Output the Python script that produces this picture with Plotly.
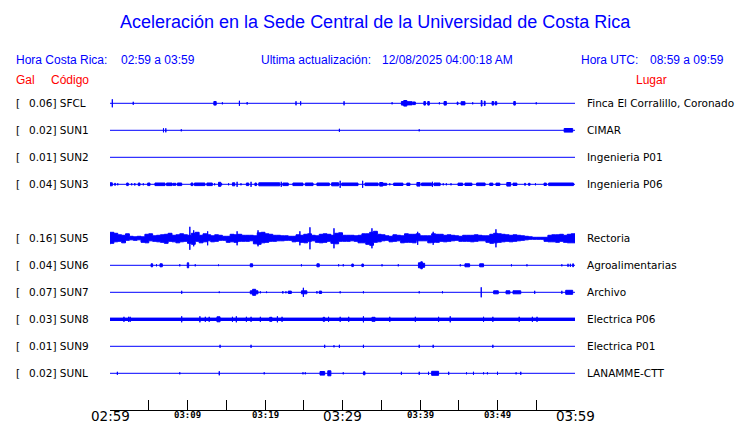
import numpy as np
import plotly.graph_objects as go

# stations, top to bottom (row 4 is empty in the original)
stations = ['SFCL', 'SUN1', 'SUN2', 'SUN3', 'SUN5', 'SUN6', 'SUN7', 'SUN8', 'SUN9', 'SUNL']
gal = [0.06, 0.02, 0.01, 0.04, 0.16, 0.04, 0.07, 0.03, 0.01, 0.02]
places = ['Finca El Corralillo, Coronado', 'CIMAR', 'Ingenieria P01', 'Ingenieria P06',
          'Rectoria', 'Agroalimentarias', 'Archivo', 'Electrica P06', 'Electrica P01',
          'LANAMME-CTT']
rows = [0, 1, 2, 3, 5, 6, 7, 8, 9, 10]

# time axis, minutes after 02:59
tick_min = [0, 5, 10, 15, 20, 25, 30, 35, 40, 45, 50, 55, 60]
label_min = [0, 10, 20, 30, 40, 50, 60]
label_txt = ['02:59', '03:09', '03:19', '03:29', '03:39', '03:49', '03:59']
big_labels = ['02:59', '03:29', '03:59']

# bursts per station: (start min, end min, half amplitude in screen px)
sfcl = [(0.3, 0.3, 4), (3.0, 3.0, 1.5), (13.4, 13.7, 1.8), (14.5, 14.5, 1), (16.7, 16.7, 2.5),
        (17.7, 17.7, 1.2), (24.0, 24.0, 2), (24.6, 24.6, 2), (30.2, 30.2, 2), (36.4, 36.4, 1),
        (37.6, 37.9, 1.8), (37.9, 38.3, 2.8), (38.3, 39.0, 1.6), (39.1, 39.4, 1.3),
        (40.5, 40.7, 1.8), (41.0, 41.2, 1.8), (42.5, 42.5, 1), (43.1, 43.4, 1.8),
        (44.8, 44.9, 1.3), (45.3, 45.8, 1.6), (46.8, 46.8, 1), (47.9, 48.0, 2.8),
        (48.3, 48.4, 2.2), (49.3, 49.5, 1.8), (49.7, 49.9, 1.6), (52.1, 52.3, 1.8), (55.0, 55.0, 1)]
sun1 = [(6.9, 6.9, 2), (7.2, 7.2, 2), (9.2, 9.2, 1), (29.6, 29.6, 1.5), (39.9, 39.9, 1),
        (58.6, 59.7, 1.8)]
sun2 = []
sun3 = [(0, 0.3, 1.5), (0.6, 0.7, 1), (1.0, 1.0, 1), (2.15, 2.36, 1.3), (2.8, 2.8, 1),
        (3.2, 3.2, 1.2), (3.65, 3.87, 1.3), (4.3, 4.3, 1), (4.86, 5.16, 1.3), (5.8, 7.1, 1.3),
        (7.3, 8.0, 1.3), (8.1, 8.5, 1), (8.7, 9.25, 1.3), (10.45, 10.7, 1.3), (10.9, 12.25, 1.3),
        (12.5, 13.2, 1.3), (13.5, 13.5, 1), (14.0, 14.3, 2), (14.4, 14.4, 1), (15.3, 15.3, 1),
        (15.8, 16.1, 1.5), (16.4, 16.4, 2.5), (16.9, 16.9, 1), (17.6, 17.9, 1.3), (18.2, 18.2, 2.5),
        (18.7, 18.9, 1.3), (19.2, 21.9, 1.5), (22.1, 22.1, 2.5), (22.3, 23.0, 1.3), (23.6, 24.9, 1.3),
        (25.2, 26.2, 1.3), (26.7, 28.3, 1.3), (28.6, 29.5, 1.5), (29.7, 29.7, 3.5), (29.9, 32.0, 1.3),
        (32.6, 32.6, 3.5), (32.9, 34.6, 1.3), (34.8, 35.2, 1.8), (35.2, 35.7, 1), (36.1, 36.1, 1),
        (36.6, 37.8, 1.2), (38.3, 38.7, 1.2), (39.6, 40.0, 1.8), (40.2, 41.5, 1.3), (41.6, 41.6, 2.5),
        (41.8, 42.6, 1.3), (43.0, 43.0, 1), (43.4, 43.4, 1), (44.0, 44.0, 1), (44.9, 45.5, 1.2),
        (45.8, 46.7, 1.2), (47.3, 48.4, 1.3), (49.0, 49.4, 1.2), (49.8, 50.3, 1.2), (51.2, 51.7, 1.8),
        (52.0, 52.5, 1.2), (53.5, 53.6, 1), (54.0, 54.2, 1), (54.9, 54.9, 1), (56.0, 56.3, 1.2),
        (56.6, 59.8, 1.3)]
# SUN5 is busy all hour: envelope every half minute, plus the tallest peaks
sun5_env = [6, 5, 3.5, 3, 4.5, 2, 1.5, 2, 1.5, 4, 4.5, 2.5, 3, 3.5, 4, 5, 3, 3.5, 4.5, 3.5,
            3, 5, 6, 3, 4.5, 3.5, 2.5, 3.5, 3, 2, 2, 4, 3.5, 4, 3, 3, 3, 2.5, 5.5, 6,
            4.5, 4, 3, 3, 2.5, 2.5, 2, 2, 3.5, 3, 4, 4.5, 3, 2.5, 4, 4.5, 4, 3, 5, 5.5,
            3, 3, 3, 2.5, 3, 4.5, 4.5, 6, 7, 4, 3.5, 2.5, 2, 3.5, 3, 2.5, 4.5, 4, 4, 4.5,
            2.5, 2.5, 2.5, 4.5, 4, 4, 3, 3.5, 3, 2.5, 2, 3, 3, 3, 3.5, 3, 2.5, 2.5, 4, 5,
            4.5, 4, 3.5, 3, 3.5, 3, 2.5, 2, 1.5, 1, 1, 1, 1, 3, 3.5, 3.5, 4, 3, 4, 4.5, 4.5]
sun5 = [(10.3, 10.3, 11.5), (10.8, 10.8, 8), (12.6, 12.6, 7), (16.4, 16.4, 7), (19.1, 19.1, 8),
        (24.5, 24.5, 7), (25.8, 25.8, 11), (28.9, 28.9, 10), (33.8, 33.8, 10), (39.7, 39.7, 6.5),
        (41.7, 41.7, 6.5), (49.8, 49.8, 9)]
sun6 = [(5.3, 5.5, 1.5), (6.0, 6.0, 1), (6.45, 6.75, 1.5), (9.0, 9.0, 1), (9.97, 10.15, 2.5),
        (11.0, 11.0, 1), (14.0, 14.0, 0.8), (18.1, 18.4, 1.5), (24.7, 24.7, 1), (26.7, 27.0, 1.5),
        (29.5, 29.5, 1), (30.1, 30.1, 1), (31.2, 31.4, 1.3), (32.5, 32.7, 1.3), (35.1, 35.1, 1),
        (37.2, 37.2, 1), (39.8, 40.1, 2.5), (40.1, 40.3, 3.5), (40.3, 40.6, 2), (45.2, 45.2, 1),
        (45.8, 46.4, 1.5), (47.7, 48.2, 1.5), (51.8, 51.8, 1), (53.8, 53.8, 1), (58.3, 58.3, 1),
        (59.1, 59.1, 1.5), (59.4, 59.4, 1.5), (59.7, 59.8, 1.5)]
sun7 = [(9.25, 9.25, 1.5), (14.1, 14.1, 0.8), (18.1, 18.4, 1.5), (18.4, 18.8, 3), (18.8, 19.1, 1.5),
        (19.4, 19.4, 1), (20.2, 20.2, 0.8), (22.3, 22.3, 1.2), (22.7, 22.7, 1), (23.0, 23.4, 1.2),
        (24.7, 24.9, 1.5), (24.95, 24.95, 4.5), (25.0, 25.4, 1.5), (26.7, 26.7, 1.2), (27.0, 27.3, 1.2),
        (29.7, 29.7, 1), (32.7, 32.7, 1), (39.9, 39.9, 1), (42.9, 42.9, 1), (47.9, 47.9, 5),
        (49.5, 50.1, 1.5), (51.1, 51.6, 1.5), (52.0, 53.0, 1.5), (54.8, 54.8, 1.5), (58.3, 58.3, 1.5),
        (58.8, 59.7, 2)]
sun8 = [(0, 60, 1.2), (1.8, 1.8, 2.5), (2.4, 2.4, 2.5), (2.6, 2.6, 2.5), (9.25, 9.25, 3),
        (11.6, 11.6, 3), (12.3, 12.3, 2.5), (12.8, 12.8, 2.5), (13.8, 14.2, 2.5), (15.8, 15.8, 2.5),
        (16.3, 16.3, 3), (17.6, 17.6, 2.5), (18.2, 18.2, 2.5), (19.4, 19.4, 2.5), (20.6, 20.9, 2),
        (21.6, 21.6, 3), (22.2, 22.2, 2.5), (27.5, 27.7, 2), (28.2, 28.2, 2.5), (29.7, 29.7, 2.5),
        (30.8, 30.8, 2.5), (32.7, 32.7, 3), (33.8, 34.2, 2), (36.1, 36.1, 2.5), (39.4, 39.4, 2.5),
        (42.4, 42.4, 2.5), (43.9, 43.9, 3), (48.2, 48.2, 2.5), (49.4, 49.4, 2.5), (52.8, 52.8, 2.5),
        (54.5, 54.5, 2.5), (55.1, 55.1, 2.5)]
sun9 = [(14.2, 14.2, 1.5), (18.2, 18.2, 1.5), (27.7, 27.7, 1.5), (28.9, 28.9, 1), (29.6, 29.6, 1.5),
        (32.7, 32.7, 1.5), (39.9, 39.9, 1.5), (41.7, 41.7, 1.5), (49.4, 49.4, 1.5)]
sunl = [(0.95, 0.95, 1.5), (9.0, 9.0, 1), (14.1, 14.1, 2), (19.9, 19.9, 1), (24.9, 24.9, 1),
        (25.2, 25.2, 1), (27.1, 27.7, 1.8), (28.1, 28.5, 2.5), (30.1, 30.1, 1), (32.7, 32.9, 1.5),
        (37.6, 37.6, 1.5), (39.9, 39.9, 1.5), (41.1, 41.1, 1.5), (41.5, 42.4, 2), (43.7, 43.7, 1.5),
        (46.0, 46.0, 1), (46.9, 46.9, 1.5), (48.2, 48.2, 1), (48.7, 48.7, 1), (50.0, 50.0, 1.5),
        (52.4, 52.4, 1), (53.0, 53.0, 1.5)]
bursts = [sfcl, sun1, sun2, sun3, sun5, sun6, sun7, sun8, sun9, sunl]

BLUE = '#0000ff'
ROW_PX = 27.0          # vertical distance between traces
L, R, T, B = 110, 575, 90, 410   # plot box in screen px
W, H = 740, 423


def px(x):
    return (x - L) / (R - L)


def py(y):
    return (B - y) / (B - T)


fig = go.Figure()

for k, segs in zip(rows, bursts):
    y0 = -k
    fig.add_trace(go.Scatter(x=[0, 60], y=[y0, y0], mode='lines',
                             line=dict(color=BLUE, width=1), hoverinfo='skip'))
    xs, ys = [], []
    for t0, t1, a in segs:
        h = a / ROW_PX
        xs += [t0, t1, t1, t0, t0, None]
        ys += [y0 + h, y0 + h, y0 - h, y0 - h, y0 + h, None]
    if xs:
        fig.add_trace(go.Scatter(x=xs, y=ys, mode='lines', fill='toself', fillcolor=BLUE,
                                 line=dict(color=BLUE, width=1), hoverinfo='skip'))

# SUN5 envelope band, drawn as steps so it looks blocky like the original
t_env = np.arange(len(sun5_env)) * 0.5
env = np.array(sun5_env) / ROW_PX
y5 = -rows[stations.index('SUN5')]
fig.add_trace(go.Scatter(x=np.concatenate([t_env, t_env[::-1]]),
                         y=np.concatenate([y5 + env, (y5 - env)[::-1]]),
                         mode='lines', fill='toself', fillcolor=BLUE, line_shape='hv',
                         line=dict(color=BLUE, width=1), hoverinfo='skip'))

ann = []
lab_font = dict(family='DejaVu Sans', size=10.5, color='black')
for k, s, g, p in zip(rows, stations, gal, places):
    ann.append(dict(x=px(14), y=-k, xref='paper', yref='y', text='[', showarrow=False,
                    xanchor='left', yanchor='middle', font=lab_font))
    ann.append(dict(x=px(27), y=-k, xref='paper', yref='y', text=f'{g:.2f}] {s}',
                    showarrow=False, xanchor='left', yanchor='middle', font=lab_font))
    ann.append(dict(x=px(585), y=-k, xref='paper', yref='y', text=p, showarrow=False,
                    xanchor='left', yanchor='middle', font=lab_font))

hdr = dict(family='Liberation Sans, Arial', size=12, color=BLUE)
red = dict(family='Liberation Sans, Arial', size=12, color='red')
for txt, x, anchor, y, f in [
        ('Hora Costa Rica:', 14, 'left', 60, hdr),
        ('02:59 a 03:59', 119, 'left', 60, hdr),
        ('Ultima actualización:', 259, 'left', 60, hdr),
        ('12/08/2025 04:00:18 AM', 380, 'left', 60, hdr),
        ('Hora UTC:', 579, 'left', 60, hdr),
        ('08:59 a 09:59', 726, 'right', 60, hdr),
        ('Gal', 14, 'left', 80, red),
        ('Código', 49, 'left', 80, red),
        ('Lugar', 669, 'right', 80, red)]:
    ann.append(dict(x=px(x), y=py(y), xref='paper', yref='paper', text=txt, showarrow=False,
                    xanchor=anchor, yanchor='middle', font=f))

ann.append(dict(x=px(375), y=py(22), xref='paper', yref='paper',
                text='Aceleración en la Sede Central de la Universidad de Costa Rica',
                showarrow=False, xanchor='center', yanchor='middle',
                font=dict(family='Liberation Sans, Arial', size=18, color=BLUE)))

for t, lbl in zip(label_min, label_txt):
    if lbl in big_labels:
        f = dict(family='DejaVu Sans', size=13.5, color='black')
        yy = py(416)
    else:
        f = dict(family='DejaVu Sans Mono', size=9, color='black')
        lbl = '<b>' + lbl + '</b>'
        yy = py(415)
    ann.append(dict(x=t, y=yy, xref='x', yref='paper', text=lbl, showarrow=False,
                    xanchor='center', yanchor='middle', font=f))

fig.update_layout(
    width=W, height=H,
    margin=dict(l=L, r=W - R, t=T, b=H - B, pad=0),
    paper_bgcolor='white', plot_bgcolor='white',
    showlegend=False, hovermode=False,
    annotations=ann,
    xaxis=dict(range=[0, 60], showgrid=False, zeroline=False, showline=True,
               linecolor='black', linewidth=1, ticks='inside', ticklen=10,
               tickcolor='black', tickwidth=1, tickvals=tick_min, showticklabels=False,
               fixedrange=True),
    yaxis=dict(range=[-(B - 103.3) / ROW_PX, (103.3 - T) / ROW_PX], visible=False,
               fixedrange=True),
)

# the page body has an 8px default margin; drop it so the figure sits at 0,0
fig.write_html("out.html", config={'displayModeBar': False},
               post_script="document.body.style.margin='0';")
